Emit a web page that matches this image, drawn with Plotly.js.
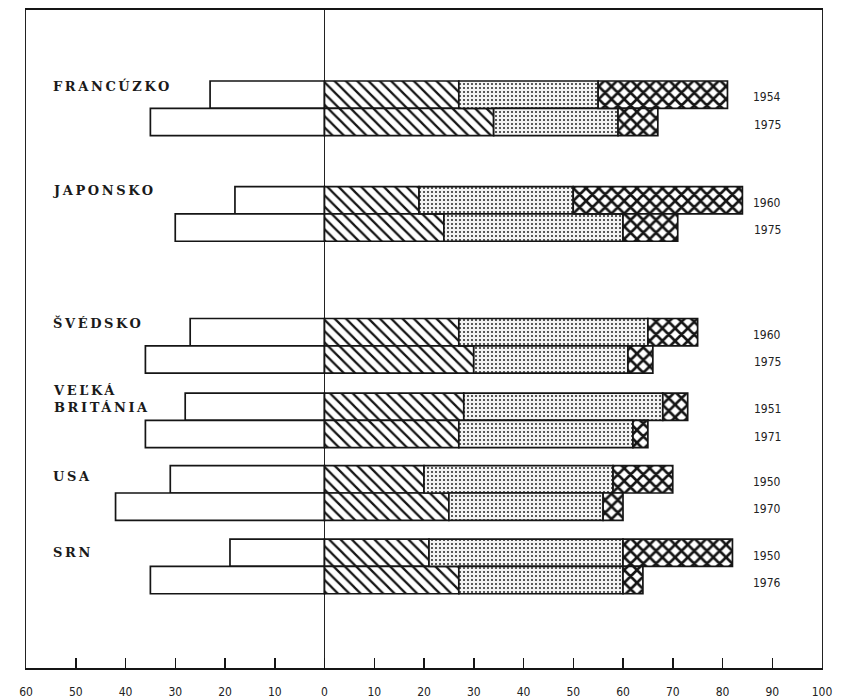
<!DOCTYPE html>
<html>
<head>
<meta charset="utf-8">
<script src="https://cdn.plot.ly/plotly-3.0.1.min.js"></script>
<style>
  html, body { margin: 0; padding: 0; background: #ffffff; }
  #chart { width: 858px; height: 698px; }
</style>
</head>
<body>
<div id="chart"></div>
<script>
// ---- data ----
const countries = ['FRANCÚZKO', 'JAPONSKO', 'ŠVÉDSKO', 'VEĽKÁ<br>BRITÁNIA', 'USA', 'SRN'];
const years = ['1954', '1975', '1960', '1975', '1960', '1975', '1951', '1971', '1950', '1970', '1950', '1976'];
// white bars to the left of zero (shown as positive magnitudes on the axis)
const leftValues = [23, 35, 18, 30, 27, 36, 28, 36, 31, 42, 19, 35];
// right side: three stacked segments
const hatchedValues = [27, 34, 19, 24, 27, 30, 28, 27, 20, 25, 21, 27];
const dottedValues  = [28, 25, 31, 36, 38, 31, 40, 35, 38, 31, 39, 33];
const crossValues   = [26,  8, 34, 11, 10,  5,  5,  3, 12,  4, 22,  4];
const tickValues = [-60, -50, -40, -30, -20, -10, 0, 10, 20, 30, 40, 50, 60, 70, 80, 90, 100];
const tickLabels = ['60', '50', '40', '30', '20', '10', '0', '10', '20', '30', '40', '50', '60', '70', '80', '90', '100'];

// ---- layout constants (positions of the country groups on the row axis) ----
const groupCenters = [3.6, 7.47, 12.3, 15.03, 17.69, 20.38];
const labelShift = [-0.33, -0.37, -0.32, -0.27, -0.1, 0.0];
const rowPos = [];
groupCenters.forEach(c => { rowPos.push(c - 0.5); rowPos.push(c + 0.5); });

const ink = '#151515';
const outline = { color: ink, width: 1.7 };

const traces = [
  {
    type: 'bar', orientation: 'h', y: rowPos, x: leftValues.map(v => -v), width: 1,
    marker: { color: '#ffffff', line: outline }
  },
  {
    type: 'bar', orientation: 'h', y: rowPos, x: hatchedValues, width: 1,
    marker: { color: '#ffffff', line: outline,
      pattern: { shape: '\\', size: 8, solidity: 0.28, fgcolor: ink, bgcolor: '#ffffff' } }
  },
  {
    type: 'bar', orientation: 'h', y: rowPos, x: dottedValues, width: 1,
    marker: { color: '#ffffff', line: outline,
      pattern: { shape: '.', size: 4, solidity: 0.22, fgcolor: '#333333', bgcolor: '#f4f4f4' } }
  },
  {
    type: 'bar', orientation: 'h', y: rowPos, x: crossValues, width: 1,
    marker: { color: '#ffffff', line: outline,
      pattern: { shape: 'x', size: 9, solidity: 0.5, fgcolor: ink, bgcolor: '#ffffff' } }
  }
];

const annotations = [];
countries.forEach((name, i) => {
  annotations.push({
    x: -55, y: groupCenters[i] - 0.5 + labelShift[i], xref: 'x', yref: 'y',
    text: name, showarrow: false, xanchor: 'left', yanchor: 'middle', align: 'left',
    font: { family: 'DejaVu Serif, Liberation Serif, serif', size: 13, color: '#1a1a1a', weight: 'bold' }
  });
});
years.forEach((yr, i) => {
  annotations.push({
    x: 89, y: rowPos[i] + 0.1, xref: 'x', yref: 'y',
    text: yr, showarrow: false, xanchor: 'center', yanchor: 'middle',
    font: { family: 'DejaVu Sans Condensed, Liberation Sans Narrow, Arial Narrow, sans-serif', size: 12, color: '#222222' }
  });
});

const layout = {
  width: 858, height: 698,
  margin: { l: 26, r: 36, t: 10, b: 30 },
  paper_bgcolor: '#ffffff', plot_bgcolor: '#ffffff',
  barmode: 'relative',
  showlegend: false,
  hovermode: false,
  xaxis: {
    range: [-60, 100],
    tickmode: 'array', tickvals: tickValues, ticktext: tickLabels,
    ticks: 'inside', ticklen: 10, tickwidth: 1.5, tickcolor: ink,
    showline: true, linecolor: ink, linewidth: 1.6, mirror: true,
    showgrid: false,
    zeroline: true, zerolinecolor: '#222222', zerolinewidth: 1.2,
    ticklabelstandoff: 12,
    tickfont: { family: 'DejaVu Sans Condensed, Liberation Sans Narrow, Arial Narrow, sans-serif', size: 12, color: '#222222' },
    fixedrange: true
  },
  yaxis: {
    range: [24.1, 0],
    showline: true, linecolor: '#222222', linewidth: 1.2, mirror: true,
    showticklabels: false, ticks: '', showgrid: false, zeroline: false,
    fixedrange: true
  },
  annotations: annotations
};

Plotly.newPlot('chart', traces, layout, { displayModeBar: false, staticPlot: true }).then(() => {
  const plain = countries.map(c => c.replace('<br>', ''));
  document.querySelectorAll('.annotation-text').forEach(t => {
    if (plain.indexOf(t.textContent) !== -1) {
      t.style.letterSpacing = '2.6px';
    }
  });
});
</script>
</body>
</html>
